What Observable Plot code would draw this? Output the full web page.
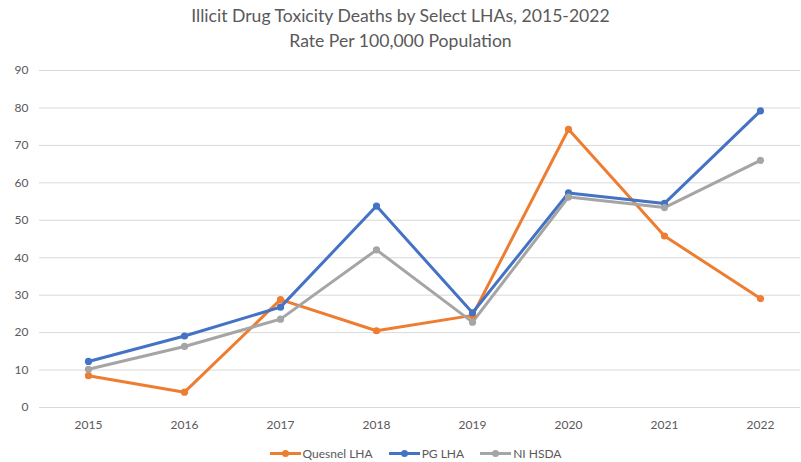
<!DOCTYPE html>
<html><head><meta charset="utf-8">
<script src="https://cdn.jsdelivr.net/npm/d3@7"></script>
<script src="https://cdn.jsdelivr.net/npm/@observablehq/plot@0.6"></script>
<style>
body{margin:0;background:#fff;font-family:Lato,"Open Sans",sans-serif;width:801px;height:462px;overflow:hidden}
#title{height:60px;text-align:center;color:#595959;font-size:17.6px;line-height:25px;padding-top:3px;box-sizing:border-box}
#legend{display:flex;justify-content:center;gap:16px;font-size:12px;color:#595959;margin-top:4px;padding-left:30px}
.item{display:flex;align-items:center}
.sw{position:relative;width:31px;height:10px;margin-right:2px}
.sw .ln{position:absolute;left:0;right:0;top:3.5px;height:3px}
.sw .dt{position:absolute;left:12px;top:1.5px;width:7px;height:7px;border-radius:50%}
</style></head>
<body>
<div id="title">Illicit Drug Toxicity Deaths by Select LHAs, 2015-2022<br>Rate Per 100,000 Population</div>
<div id="chart"></div>
<div id="legend"></div>
<script>
const years = ["2015","2016","2017","2018","2019","2020","2021","2022"];
const seriesNames = ["Quesnel LHA","PG LHA","NI HSDA"];
const seriesColors = ["#ED7D31","#4472C4","#A5A5A5"];
const quesnel = [8.5, 4.1, 28.8, 20.5, 24.6, 74.3, 45.8, 29.1];
const pg      = [12.3, 19.1, 26.8, 53.8, 25.3, 57.3, 54.5, 79.2];
const nihsda  = [10.2, 16.3, 23.6, 42.1, 22.8, 56.2, 53.4, 66.0];
const yTicks = [0,10,20,30,40,50,60,70,80,90];

const values = [quesnel, pg, nihsda];
const data = [];
seriesNames.forEach((s,i)=>years.forEach((y,j)=>data.push({series:s, year:y, value:values[i][j]})));

const chart = Plot.plot({
  width: 801, height: 382,
  marginTop: 10, marginBottom: 35, marginLeft: 39, marginRight: 1,
  style: {fontFamily: "Lato, 'Open Sans', sans-serif", fontSize: "12px", color: "#595959", background: "#fff"},
  x: {type: "point", domain: years, range: [87, 760], padding: 0, label: null, tickSize: 0, tickPadding: 13},
  y: {domain: [0, 90], ticks: yTicks, label: null, tickSize: 0, tickPadding: 11},
  color: {domain: seriesNames, range: seriesColors},
  marks: [
    Plot.gridY(yTicks, {stroke: "#d9d9d9", strokeOpacity: 1, strokeWidth: 1}),
    Plot.axisY(yTicks, {tickSize: 0, tickPadding: 11, label: null, fill: "#595959"}),
    Plot.axisX({tickSize: 0, tickPadding: 13, label: null, fill: "#595959"}),
    Plot.line(data, {x: "year", y: "value", z: "series", stroke: "series", strokeWidth: 3, strokeLinejoin: "round", strokeLinecap: "round"}),
    Plot.dot(data, {x: "year", y: "value", fill: "series", r: 3.6, stroke: null})
  ]
});
document.getElementById("chart").appendChild(chart);

const leg = document.getElementById("legend");
seriesNames.forEach((s,i)=>{
  const it = document.createElement("div"); it.className="item";
  it.innerHTML = `<div class="sw"><div class="ln" style="background:${seriesColors[i]}"></div><div class="dt" style="background:${seriesColors[i]}"></div></div><span>${s}</span>`;
  leg.appendChild(it);
});
</script>
</body></html>
